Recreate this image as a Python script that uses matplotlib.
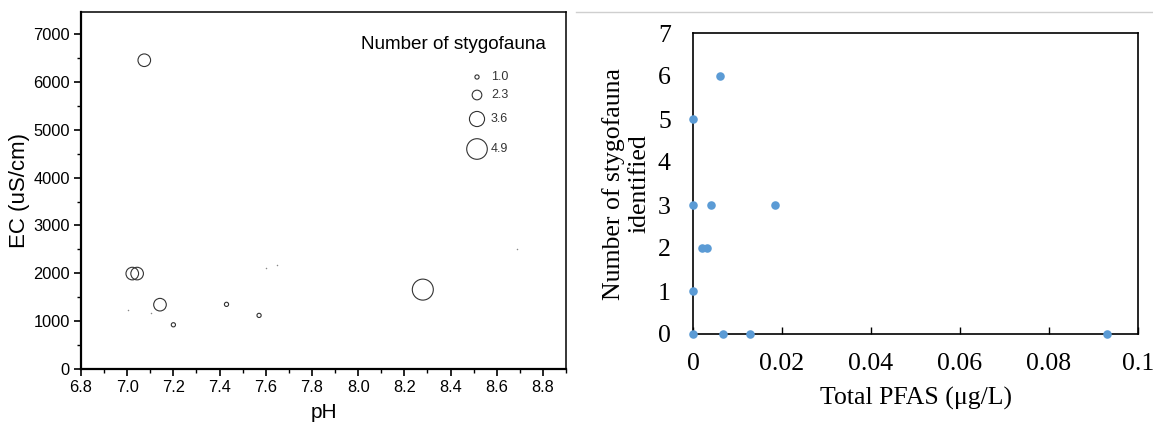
import matplotlib
matplotlib.use("Agg")
import matplotlib.pyplot as plt
from matplotlib.lines import Line2D
import numpy as np

# ---- Left panel data: pH vs EC, bubble = number of stygofauna ----
ph = [7.074, 7.022, 7.043, 7.142, 7.20, 7.43, 7.571, 8.28, 7.004, 7.105, 7.60, 7.65, 8.69]
ec = [6452, 1994, 1994, 1344, 924, 1351, 1120, 1659, 1239, 1176, 2113, 2183, 2498]
stygo_count = [3, 3, 3, 3, 1, 1, 1, 5, 0, 0, 0, 0, 0]
legend_values = [1.0, 2.3, 3.6, 4.9]
left_xticks = [6.8, 7.0, 7.2, 7.4, 7.6, 7.8, 8.0, 8.2, 8.4, 8.6, 8.8]
left_yticks = [0, 1000, 2000, 3000, 4000, 5000, 6000, 7000]

# ---- Right panel data: Total PFAS vs number of stygofauna ----
pfas = [0.0, 0.0068, 0.0127, 0.093, 0.0, 0.0021, 0.0031, 0.0, 0.004, 0.0184, 0.0, 0.006]
n_stygo = [0, 0, 0, 0, 1, 2, 2, 3, 3, 3, 5, 6]
right_xticks = [0, 0.02, 0.04, 0.06, 0.08, 0.1]
right_xticklabels = ["0", "0.02", "0.04", "0.06", "0.08", "0.1"]
right_yticks = [0, 1, 2, 3, 4, 5, 6, 7]

W, H = 1153, 425
DPI = 100
fig = plt.figure(figsize=(W / DPI, H / DPI), dpi=DPI)

PX2PT = 72.0 / DPI


def bubble_area(v):
    d_px = 4.2 * np.asarray(v, dtype=float)
    return (d_px * PX2PT) ** 2


# ================= Left panel =================
sans = ["Liberation Sans", "Arial", "DejaVu Sans"]
axL = fig.add_axes([81 / W, (H - 369) / H, 485 / W, 357 / H])
ph_a = np.array(ph)
ec_a = np.array(ec)
cnt = np.array(stygo_count)
pos = cnt > 0
axL.scatter(ph_a[pos], ec_a[pos], s=bubble_area(cnt[pos]), facecolors="none",
            edgecolors="#333333", linewidths=0.8, zorder=3)
axL.scatter(ph_a[~pos], ec_a[~pos], s=1.2, color="#888888", linewidths=0, zorder=3)

axL.set_xlim(6.8, 8.9)
axL.set_ylim(0, 7460)
axL.set_xticks(left_xticks)
axL.set_xticklabels([f"{t:.1f}" for t in left_xticks], family=sans, fontsize=11.8)
axL.set_yticks(left_yticks)
axL.set_yticklabels([str(t) for t in left_yticks], family=sans, fontsize=11.8)
axL.set_xticks(np.arange(6.9, 8.95, 0.2), minor=True)
axL.set_yticks(np.arange(500, 7460, 1000), minor=True)
axL.tick_params(which="major", direction="out", length=5, width=1.2, pad=3)
axL.tick_params(which="minor", direction="out", length=3, width=1.0)
for side in ["left", "bottom"]:
    axL.spines[side].set_linewidth(1.6)
for side in ["top", "right"]:
    axL.spines[side].set_linewidth(1.1)
axL.set_xlabel("pH", family=sans, fontsize=15, labelpad=6)
axL.set_ylabel("EC (uS/cm)", family=sans, fontsize=16, labelpad=2)

# manual bubble legend
def fx(px):
    return (px - 81) / 485.0


def fy(py):
    return (369 - py) / 357.0


axL.text(fx(453), fy(44), "Number of stygofauna", transform=axL.transAxes,
         ha="center", va="center", family=sans, fontsize=13.6)
leg_y = [77, 95, 119, 149]
for v, yy in zip(legend_values, leg_y):
    axL.scatter([fx(477)], [fy(yy)], s=bubble_area(v), facecolors="none",
                edgecolors="#333333", linewidths=0.8, transform=axL.transAxes,
                clip_on=False, zorder=4)
    r_px = 4.2 * v / 2
    tx = max(491, 477 + r_px + 0.5)
    axL.text(fx(tx), fy(yy), f"{v:.1f}", transform=axL.transAxes,
             ha="left", va="center", family=sans, fontsize=9, color="#333333")

# ================= Right panel =================
serif = ["Liberation Serif", "Times New Roman", "DejaVu Serif"]
axR = fig.add_axes([693 / W, (H - 334) / H, 445 / W, 301 / H])
axR.scatter(pfas, n_stygo, s=38, color="#5B9BD5", linewidths=0, zorder=3, clip_on=False)
axR.set_xlim(0, 0.1)
axR.set_ylim(0, 7)
axR.set_xticks(right_xticks)
axR.set_xticklabels(right_xticklabels, family=serif, fontsize=18.5)
axR.set_yticks(right_yticks)
axR.set_yticklabels([str(t) for t in right_yticks], family=serif, fontsize=18.5)
axR.tick_params(axis="x", direction="in", length=5, width=1.0, pad=14)
axR.tick_params(axis="y", length=0, pad=16)
for s in axR.spines.values():
    s.set_linewidth(1.2)
axR.set_xlabel("Total PFAS (μg/L)", family=serif, fontsize=18.5, labelpad=8)
axR.set_ylabel("Number of stygofauna\nidentified", family=serif, fontsize=18.5,
               labelpad=5, linespacing=1.25)

# separator line at top of right half
fig.add_artist(Line2D([576 / W, 1.0], [1 - 11.5 / H, 1 - 11.5 / H],
                      transform=fig.transFigure, color="#cfcfcf", linewidth=1.0))

fig.savefig("out.png", dpi=DPI)
